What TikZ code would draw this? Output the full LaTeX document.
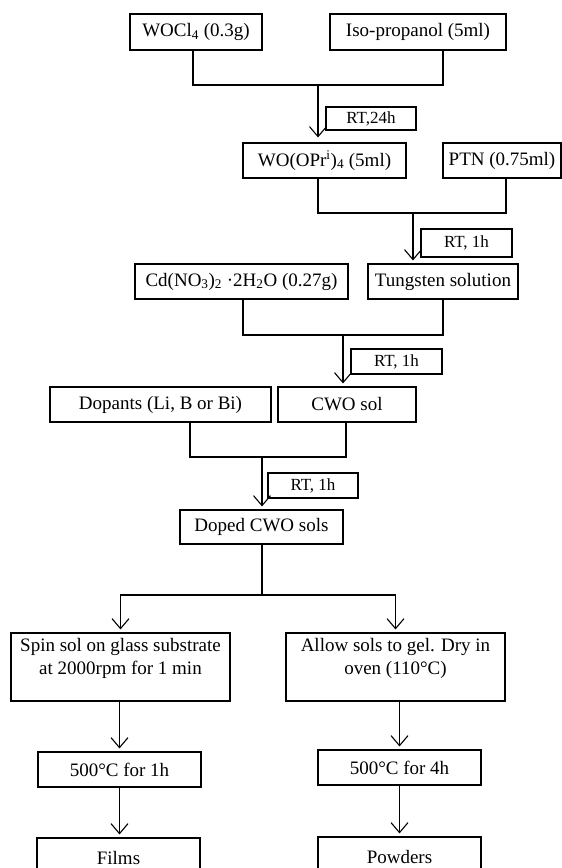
\documentclass[tikz,border=0pt]{standalone}
\usepackage{fontspec}
\setmainfont{Liberation Serif}
\usepackage{tikz}
\usetikzlibrary{arrows.meta,positioning}

\begin{document}
\begin{tikzpicture}[x=1pt,y=1pt]
                \tikzstyle{every node}+=[inner sep=0pt]
                \tikzstyle{box}=[draw, black, line width=1.1pt, align=center, font=\fontsize{19}{23}\selectfont]
                \tikzstyle{note}=[box, font=\fontsize{17}{20}\selectfont]
                \tikzstyle{line}=[black, line width=1.1pt]
                \tikzstyle{arrow}=[line, -{Straight Barb[length=10pt,width=17pt,line width=1.1pt]}, shorten >=3pt]
                \useasboundingbox (0,0) rectangle (562,-868);
                \clip (0,0) rectangle (562,-868);
                % starting materials
                \node [box, minimum width=132, minimum height=36] (wocl) at (196,-32) {WOCl\textsubscript{4} (0.3g)};
                \node [box, minimum width=176, minimum height=36] (iso) at (418,-32) {Iso-propanol (5ml)};
                \node [note, minimum width=90, minimum height=23] (rt1) at (371,-118.5) {RT,24h};
                \node [box, minimum width=163, minimum height=35] (wo) at (324.5,-160.5) {WO(OPr\textsuperscript{i})\textsubscript{4} (5ml)};
                \node [box, minimum width=118, minimum height=35] (ptn) at (502,-160.5) {PTN (0.75ml)};
                \node [note, minimum width=91, minimum height=28] (rt2) at (466.5,-243) {RT, 1h};
                \node [box, minimum width=213, minimum height=35] (cd) at (241.5,-281.5) {Cd(NO\textsubscript{3})\textsubscript{2} ·2H\textsubscript{2}O (0.27g)};
                \node [box, minimum width=150, minimum height=35] (tung) at (443,-281.5) {Tungsten solution};
                \node [note, minimum width=91, minimum height=25] (rt3) at (396.5,-361.5) {RT, 1h};
                \node [box, minimum width=221, minimum height=35] (dop) at (160.5,-404.5) {Dopants (Li, B or Bi)};
                \node [box, minimum width=138, minimum height=35] (cwo) at (347,-404.5) {CWO sol};
                \node [note, minimum width=90, minimum height=25] (rt4) at (313,-485.5) {RT, 1h};
                \node [box, minimum width=163, minimum height=34] (doped) at (261.5,-527) {Doped CWO sols};
                % films and powders
                \node [box, minimum width=219, minimum height=68] (spin) at (120.5,-667) {Spin sol on glass substrate\\at 2000rpm for 1 min\rule[-21pt]{0pt}{1pt}};
                \node [box, minimum width=219, minimum height=68] (allow) at (395.5,-667) {Allow sols to gel. Dry in\\oven (110°C)\rule[-21pt]{0pt}{1pt}};
                \node [box, minimum width=163, minimum height=35] (h1) at (119.5,-769.5) {500°C for 1h};
                \node [box, minimum width=163, minimum height=35] (h4) at (399.5,-767.5) {500°C for 4h};
                \node [box, minimum width=163, minimum height=40] (films) at (118.5,-858) {Films};
                \node [box, minimum width=163, minimum height=40] (powders) at (399.5,-857) {Powders};
                % joins
                \coordinate (j1) at (318,-85);
                \coordinate (j2) at (413,-213);
                \coordinate (j3) at (343,-335);
                \coordinate (j4) at (262,-457);
                \coordinate (j5) at (262,-595);
                \draw [line] ([xshift=-3]wocl.south) |- (j1) -| ([xshift=25]iso.south);
                \draw [arrow, shorten >=5pt] (j1) -- (j1 |- wo.north);
                \draw [line] ([xshift=-6.5]wo.south) |- (j2) -| ([xshift=4]ptn.south);
                \draw [arrow] (j2) -- (j2 |- tung.north);
                \draw [line] ([xshift=1.5]cd.south) |- (j3) -| (tung.south);
                \draw [arrow] (j3) -- (j3 |- cwo.north);
                \draw [line] ([xshift=29.5]dop.south) |- (j4) -| ([xshift=-1]cwo.south);
                \draw [arrow] (j4) -- (j4 |- doped.north);
                \draw [line] (j5 |- doped.south) -- (j5);
                \draw [arrow] (j5) -| (spin.north);
                \draw [arrow] (j5) -| (allow.north);
                \draw [arrow] (h1.north |- spin.south) -- (h1.north);
                \draw [arrow] (h1.south) -- (h1.south |- films.north);
                \draw [arrow] (h4.north |- allow.south) -- (h4.north);
                \draw [arrow] (h4.south) -- (powders.north);
\end{tikzpicture}
\end{document}
